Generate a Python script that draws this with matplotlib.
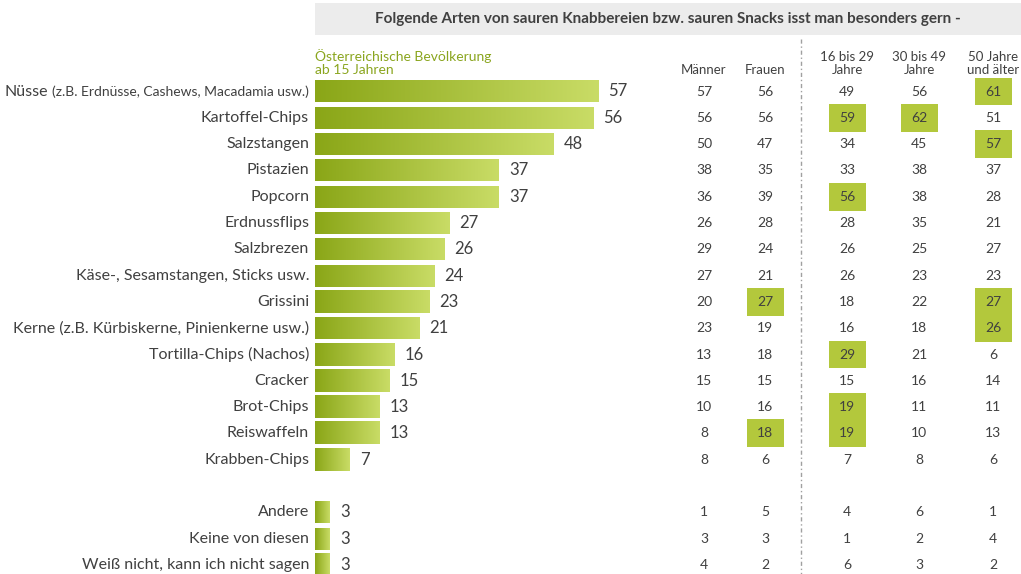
import numpy as np
import matplotlib
matplotlib.use("Agg")
import matplotlib.pyplot as plt
from matplotlib.colors import LinearSegmentedColormap
from matplotlib.patches import Rectangle
from matplotlib.transforms import blended_transform_factory
from matplotlib.offsetbox import TextArea, HPacker, AnnotationBbox

plt.rcParams["font.family"] = ["Lato", "DejaVu Sans"]

labels = [
    "Kartoffel-Chips", "Salzstangen", "Pistazien", "Popcorn", "Erdnussflips",
    "Salzbrezen", "Käse-, Sesamstangen, Sticks usw.", "Grissini",
    "Kerne (z.B. Kürbiskerne, Pinienkerne usw.)", "Tortilla-Chips (Nachos)",
    "Cracker", "Brot-Chips", "Reiswaffeln", "Krabben-Chips",
    "Andere", "Keine von diesen", "Weiß nicht, kann ich nicht sagen",
]
first_label = ("Nüsse", "(z.B. Erdnüsse, Cashews, Macadamia usw.)")
total = [57, 56, 48, 37, 37, 27, 26, 24, 23, 21, 16, 15, 13, 13, 7, 3, 3, 3]
maenner = [57, 56, 50, 38, 36, 26, 29, 27, 20, 23, 13, 15, 10, 8, 8, 1, 3, 4]
frauen = [56, 56, 47, 35, 39, 28, 24, 21, 27, 19, 18, 15, 16, 18, 6, 5, 3, 2]
age_16_29 = [49, 59, 34, 33, 56, 28, 26, 26, 18, 16, 29, 15, 19, 19, 7, 4, 1, 6]
age_30_49 = [56, 62, 45, 38, 38, 35, 25, 23, 22, 18, 21, 16, 11, 10, 8, 6, 2, 3]
age_50 = [61, 51, 57, 37, 28, 21, 27, 23, 27, 26, 6, 14, 11, 13, 6, 1, 4, 2]
# highlighted cells: (column index, row index)
highlights = [(1, 8), (1, 13), (2, 1), (2, 4), (2, 10), (2, 12), (2, 13),
              (3, 1), (4, 0), (4, 2), (4, 8), (4, 9)]
col_headers = ["Männer", "Frauen", "16 bis 29\nJahre", "30 bis 49\nJahre", "50 Jahre\nund älter"]
title = "Folgende Arten von sauren Knabbereien bzw. sauren Snacks isst man besonders gern -"

TXT = "#404040"
HL = "#b3c83c"
cmap = LinearSegmentedColormap.from_list("bar", ["#8aa617", "#c9dc66"])

W, H = 1021, 574
fig = plt.figure(figsize=(W / 100, H / 100), dpi=100)
ax = fig.add_axes([0, 0, 1, 1])
ax.axis("off")

x0_px, px_per = 315, 4.97
row_px, row0_px = 26.3, 91.5
ax.set_xlim(-x0_px / px_per, (W - x0_px) / px_per)
ax.set_ylim((H - row0_px) / row_px, -row0_px / row_px)

rows = list(range(15)) + [16, 17, 18]
grad = np.linspace(0, 1, 256).reshape(1, -1)
bar_h = 22 / row_px
for r, v in zip(rows, total):
    ax.imshow(grad, cmap=cmap, aspect="auto", interpolation="bilinear",
              extent=(0, v, r + bar_h / 2, r - bar_h / 2), zorder=2)
    ax.text(v + 2, r, str(v), ha="left", va="center", fontsize=12, color=TXT)

lab_x = -1.2
ab = AnnotationBbox(
    HPacker(children=[TextArea(first_label[0], textprops=dict(fontsize=11.5, color=TXT)),
                      TextArea(first_label[1], textprops=dict(fontsize=10, color=TXT))],
            align="baseline", pad=0, sep=3),
    (lab_x, rows[0]), box_alignment=(1, 0.5), frameon=False, pad=0)
ax.add_artist(ab)
for r, lab in zip(rows[1:], labels):
    ax.text(lab_x, r, lab, ha="right", va="center", fontsize=11.5, color=TXT)

# header band
tr_fig = fig.transFigure
fig.patches.append(Rectangle((315 / W, 1 - 35 / H), 1, 32 / H, transform=tr_fig,
                             facecolor="#ececec", edgecolor="none", zorder=0))
fig.text(668 / W, 1 - 19 / H, title, ha="center", va="center", fontsize=11,
         fontweight="bold", color=TXT)
fig.text(315 / W, 1 - 74 / H, "Österreichische Bevölkerung\nab 15 Jahren", ha="left",
         va="baseline", fontsize=10, color="#8aa51e", linespacing=1.1)

# table
bt = blended_transform_factory(ax.transAxes, ax.transData)
col_x = [704, 765, 847, 919, 993]
columns = [maenner, frauen, age_16_29, age_30_49, age_50]
for cx, head in zip(col_x, col_headers):
    fig.text(cx / W, 1 - 74 / H, head, ha="center", va="baseline", fontsize=9.5,
             color=TXT, linespacing=1.1)
box_w = 37 / W
for ci, ri in highlights:
    ax.add_patch(Rectangle((col_x[ci] / W - box_w / 2, rows[ri] - 0.53), box_w, 1.06,
                           transform=bt, facecolor=HL, edgecolor="none", zorder=1))
for cx, vals in zip(col_x, columns):
    for r, v in zip(rows, vals):
        ax.text(cx / W, r, str(v), transform=bt, ha="center", va="center",
                fontsize=10, color=TXT, zorder=3)

ax.plot([801 / W, 801 / W], [-2.0, 19], transform=bt, color="#a0a0a0", lw=1,
        linestyle=(0, (3, 2, 1, 2)), zorder=1, clip_on=False)

fig.savefig("out.png", dpi=100)
